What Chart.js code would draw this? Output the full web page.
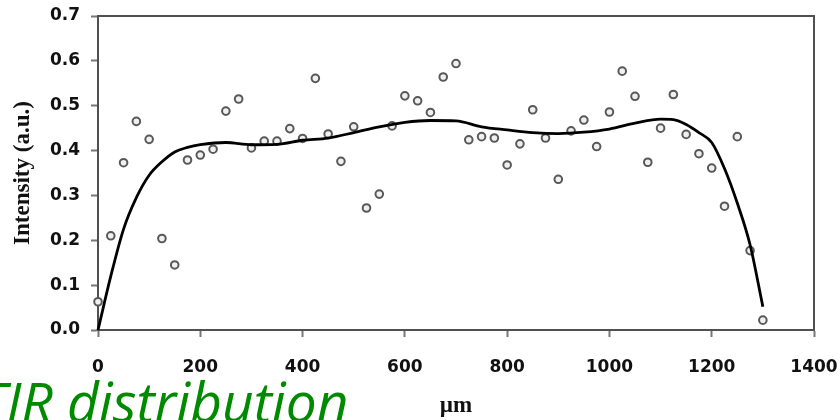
<!DOCTYPE html>
<html>
<head>
<meta charset="utf-8">
<script src="https://cdn.jsdelivr.net/npm/chart.js@4/dist/chart.umd.min.js"></script>
<style>
  html, body { margin: 0; padding: 0; background: #fff; overflow: hidden; }
  #wrap { position: relative; width: 838px; height: 420px; }
  #caption {
    position: absolute; left: -21px; top: 373px;
    font: italic 55px/55px 'Open Sans', sans-serif;
    color: #008a00; white-space: nowrap;
  }
</style>
</head>
<body>
<div id="wrap">
  <canvas id="canvas1" width="838" height="420"></canvas>
  <div id="caption">TIR distribution</div>
</div>
<script>
// measured intensity, one sample every 25 µm
const posUm = [0, 25, 50, 75, 100, 125, 150, 175, 200, 225, 250, 275, 300, 325, 350, 375, 400, 425, 450, 475,
    500, 525, 550, 575, 600, 625, 650, 675, 700, 725, 750, 775, 800, 825, 850, 875, 900, 925, 950, 975,
    1000, 1025, 1050, 1075, 1100, 1125, 1150, 1175, 1200, 1225, 1250, 1275, 1300];
const intensity = [0.063, 0.210, 0.373, 0.465, 0.425, 0.204, 0.145, 0.379, 0.390, 0.403, 0.488, 0.515, 0.406,
    0.421, 0.421, 0.449, 0.427, 0.561, 0.437, 0.376, 0.453, 0.272, 0.303, 0.455, 0.522, 0.511, 0.485, 0.564,
    0.594, 0.424, 0.431, 0.428, 0.368, 0.415, 0.491, 0.428, 0.336, 0.444, 0.468, 0.409, 0.486, 0.577, 0.521,
    0.374, 0.450, 0.525, 0.436, 0.393, 0.361, 0.276, 0.431, 0.177, 0.022];

// smoothed fit
const fitX = [0, 25, 50, 75, 100, 125, 150, 175, 200, 250, 300, 350, 400, 450, 500, 550, 600, 650, 700, 750,
    800, 850, 900, 950, 1000, 1050, 1100, 1125, 1150, 1175, 1200, 1225, 1250, 1275, 1300];
const fitY = [0.0, 0.12, 0.225, 0.295, 0.345, 0.375, 0.397, 0.407, 0.413, 0.418, 0.413, 0.414, 0.423, 0.428,
    0.440, 0.453, 0.463, 0.467, 0.466, 0.453, 0.446, 0.440, 0.438, 0.441, 0.448, 0.461, 0.470, 0.469, 0.458,
    0.440, 0.418, 0.360, 0.283, 0.190, 0.052];

const xTicks = [0, 200, 400, 600, 800, 1000, 1200, 1400];
const yTicks = [0.0, 0.1, 0.2, 0.3, 0.4, 0.5, 0.6, 0.7];

const tickFont = { family: 'DejaVu Sans', size: 17, weight: 'bold' };
const titleFont = { family: 'Liberation Serif', size: 23, weight: 'bold' };

// top and right edges of the plot box
const frame = {
    id: 'frame',
    afterDraw(chart) {
        const a = chart.chartArea, ctx = chart.ctx;
        ctx.save();
        ctx.strokeStyle = '#505050';
        ctx.lineWidth = 2;
        ctx.beginPath();
        ctx.moveTo(a.left, a.top);
        ctx.lineTo(a.right, a.top);
        ctx.lineTo(a.right, a.bottom);
        ctx.stroke();
        ctx.restore();
    }
};

const config = {
    type: 'scatter',
    data: {
        datasets: [{
            label: 'fit',
            data: fitX.map((x, i) => ({ x: x, y: fitY[i] })),
            showLine: true,
            borderColor: '#000',
            borderWidth: 2.8,
            cubicInterpolationMode: 'monotone',
            pointRadius: 0,
            clip: false,
            order: 0
        }, {
            label: 'intensity',
            data: posUm.map((x, i) => ({ x: x, y: intensity[i] })),
            pointRadius: 3.8,
            pointBorderWidth: 2,
            pointBorderColor: '#585858',
            pointBackgroundColor: '#f0f0f0',
            clip: false,
            order: 1
        }]
    },
    options: {
        responsive: true,
        maintainAspectRatio: false,
        animation: false,
        layout: { padding: { top: 16, right: 24, left: 0, bottom: 0 } },
        plugins: { legend: { display: false }, tooltip: { enabled: false } },
        scales: {
            x: {
                type: 'linear',
                min: 0, max: 1400,
                afterBuildTicks: s => { s.ticks = xTicks.map(v => ({ value: v })); },
                afterFit: s => { s.height = 90; s.paddingLeft = 0; s.paddingRight = 0; },
                grid: { drawOnChartArea: false, tickLength: 7, tickColor: '#777', tickWidth: 2 },
                border: { color: '#505050', width: 2 },
                ticks: { font: tickFont, color: '#111', padding: 20, maxRotation: 0, callback: v => String(v) },
                title: { display: true, text: 'µm', font: titleFont, color: '#111', padding: 0 }
            },
            y: {
                min: 0, max: 0.7,
                afterBuildTicks: s => { s.ticks = yTicks.map(v => ({ value: v })); },
                afterFit: s => { s.width = 98; s.paddingTop = 0; s.paddingBottom = 0; },
                grid: { drawOnChartArea: false, tickLength: 7, tickColor: '#777', tickWidth: 2 },
                border: { color: '#505050', width: 2 },
                ticks: { font: tickFont, color: '#111', padding: 11, callback: v => v.toFixed(1) },
                title: { display: true, text: 'Intensity (a.u.)', font: titleFont, color: '#111', padding: { top: 9, bottom: 0 } }
            }
        }
    },
    plugins: [frame]
};

const chart = new Chart(document.getElementById('canvas1'), config);
</script>
</body>
</html>
